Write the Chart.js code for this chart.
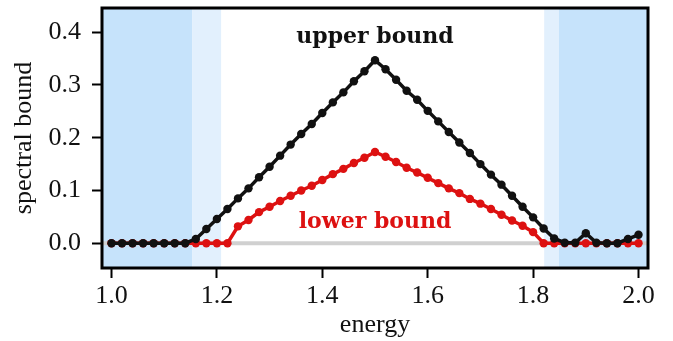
<!DOCTYPE html>
<html>
<head>
<meta charset="utf-8">
<script src="https://cdn.jsdelivr.net/npm/chart.js@4/dist/chart.umd.min.js"></script>
<style>
  html, body { margin: 0; padding: 0; background: #fff; }
</style>
</head>
<body>
<canvas id="bound-chart" width="673" height="341"></canvas>
<script>
// spectral bounds vs energy

var energy = [
	1.00, 1.02, 1.04, 1.06, 1.08, 1.10, 1.12, 1.14, 1.16, 1.18,
	1.20, 1.22, 1.24, 1.26, 1.28, 1.30, 1.32, 1.34, 1.36, 1.38,
	1.40, 1.42, 1.44, 1.46, 1.48, 1.50, 1.52, 1.54, 1.56, 1.58,
	1.60, 1.62, 1.64, 1.66, 1.68, 1.70, 1.72, 1.74, 1.76, 1.78,
	1.80, 1.82, 1.84, 1.86, 1.88, 1.90, 1.92, 1.94, 1.96, 1.98,
	2.00,
];
var upperBound = [
	0, 0, 0, 0, 0, 0, 0, 0, 0.008, 0.027,
	0.046, 0.065, 0.085, 0.104, 0.125, 0.145, 0.166, 0.187, 0.207, 0.226,
	0.247, 0.267, 0.286, 0.307, 0.326, 0.347, 0.330, 0.310, 0.289, 0.272,
	0.251, 0.231, 0.211, 0.191, 0.171, 0.150, 0.130, 0.111, 0.090, 0.069,
	0.049, 0.028, 0.009, 0.001, 0.001, 0.019, 0.001, 0, 0, 0.008,
	0.016,
];
var lowerBound = [
	0, 0, 0, 0, 0, 0, 0, 0, 0, 0,
	0, 0, 0.032, 0.044, 0.059, 0.069, 0.080, 0.090, 0.100, 0.109,
	0.120, 0.131, 0.141, 0.152, 0.162, 0.173, 0.164, 0.154, 0.143, 0.134,
	0.124, 0.114, 0.104, 0.095, 0.084, 0.075, 0.065, 0.054, 0.043, 0.033,
	0.021, 0, 0, 0, 0, 0, 0, 0, 0, 0,
	0,
];
var xTicks = [1.0, 1.2, 1.4, 1.6, 1.8, 2.0];
var yTicks = [0.0, 0.1, 0.2, 0.3, 0.4];
var xRange = [0.982, 2.018];
var yRange = [-0.047, 0.446];

// shaded energy windows
var darkSpans = [[0.982, 1.153], [1.849, 2.018]];
var lightSpans = [[1.153, 1.208], [1.821, 1.849]];

var serif = "'Liberation Serif', 'DejaVu Serif', serif";

function toPoints(ys) {
	return energy.map(function(x, i) { return { x: x, y: ys[i] }; });
}

var spanPlugin = {
	id: 'spans',
	beforeDatasetsDraw: function(chart) {
		var ctx = chart.ctx, a = chart.chartArea, xs = chart.scales.x;
		function fill(spans, color) {
			ctx.fillStyle = color;
			spans.forEach(function(s) {
				var x0 = Math.max(a.left, xs.getPixelForValue(s[0]));
				var x1 = Math.min(a.right, xs.getPixelForValue(s[1]));
				ctx.fillRect(x0, a.top, x1 - x0, a.bottom - a.top);
			});
		}
		ctx.save();
		fill(darkSpans, '#c6e3fb');
		fill(lightSpans, '#e2f0fd');
		ctx.restore();
	},
	afterDatasetsDraw: function(chart) {
		var ctx = chart.ctx, a = chart.chartArea;
		var xs = chart.scales.x, ys = chart.scales.y;
		ctx.save();
		ctx.font = "bold 22px 'DejaVu Serif', serif";
		ctx.textAlign = 'center';
		ctx.textBaseline = 'middle';
		ctx.fillStyle = '#111111';
		ctx.fillText('upper bound', xs.getPixelForValue(1.5), ys.getPixelForValue(0.391));
		ctx.fillStyle = '#dd1111';
		ctx.fillText('lower bound', xs.getPixelForValue(1.5), ys.getPixelForValue(0.040));
		// axes frame
		ctx.strokeStyle = '#000';
		ctx.lineWidth = 3;
		ctx.strokeRect(a.left, a.top, a.right - a.left, a.bottom - a.top);
		ctx.restore();
	}
};

window.addEventListener('load', function(){
	var ctx = document.getElementById('bound-chart').getContext('2d');
	new Chart(ctx, {
		type: 'line',
		data: {
			datasets: [
				{
					label: 'upper bound',
					data: toPoints(upperBound),
					borderColor: '#111111',
					backgroundColor: '#111111',
					borderWidth: 3.5,
					pointRadius: 4.2,
					pointBorderWidth: 0,
					order: 0,
				},
				{
					label: 'lower bound',
					data: toPoints(lowerBound),
					borderColor: '#dd1111',
					backgroundColor: '#dd1111',
					borderWidth: 3.5,
					pointRadius: 4.2,
					pointBorderWidth: 0,
					order: 1,
				},
				{
					label: 'zero',
					data: [{ x: xRange[0], y: 0 }, { x: xRange[1], y: 0 }],
					borderColor: '#d0d0d0',
					borderWidth: 4,
					pointRadius: 0,
					order: 2,
				}
			]
		},
		options: {
			responsive: false,
			animation: false,
			layout: { padding: { left: 0, right: 25, top: 8, bottom: 0 } },
			plugins: {
				legend: { display: false },
				tooltip: { enabled: false },
			},
			scales: {
				x: {
					type: 'linear',
					min: xRange[0],
					max: xRange[1],
					afterBuildTicks: function(scale) {
						scale.ticks = xTicks.map(function(v) { return { value: v }; });
					},
					afterFit: function(scale) {
						scale.height = 73;
						scale.paddingLeft = 0;
						scale.paddingRight = 0;
					},
					grid: {
						drawOnChartArea: false,
						drawTicks: true,
						tickLength: 10,
						tickWidth: 2,
						tickColor: '#000',
					},
					border: { display: false },
					ticks: {
						padding: 3,
						color: '#111',
						maxRotation: 0,
						font: { family: serif, size: 26 },
						callback: function(v) { return Number(v).toFixed(1); },
					},
					title: {
						display: true,
						text: 'energy',
						color: '#111',
						padding: { top: 0, bottom: 0 },
						font: { family: serif, size: 26 },
					},
				},
				y: {
					min: yRange[0],
					max: yRange[1],
					afterBuildTicks: function(scale) {
						scale.ticks = yTicks.map(function(v) { return { value: v }; });
					},
					afterFit: function(scale) {
						scale.width = 102;
						scale.paddingTop = 0;
						scale.paddingBottom = 0;
					},
					grid: {
						drawOnChartArea: false,
						drawTicks: true,
						tickLength: 10,
						tickWidth: 2,
						tickColor: '#000',
					},
					border: { display: false },
					ticks: {
						padding: 11,
						color: '#111',
						font: { family: serif, size: 26 },
						callback: function(v) { return Number(v).toFixed(1); },
					},
					title: {
						display: true,
						text: 'spectral bound',
						color: '#111',
						padding: { top: 9, bottom: 0 },
						font: { family: serif, size: 26 },
					},
				}
			}
		},
		plugins: [spanPlugin]
	});
});
</script>
</body>
</html>
